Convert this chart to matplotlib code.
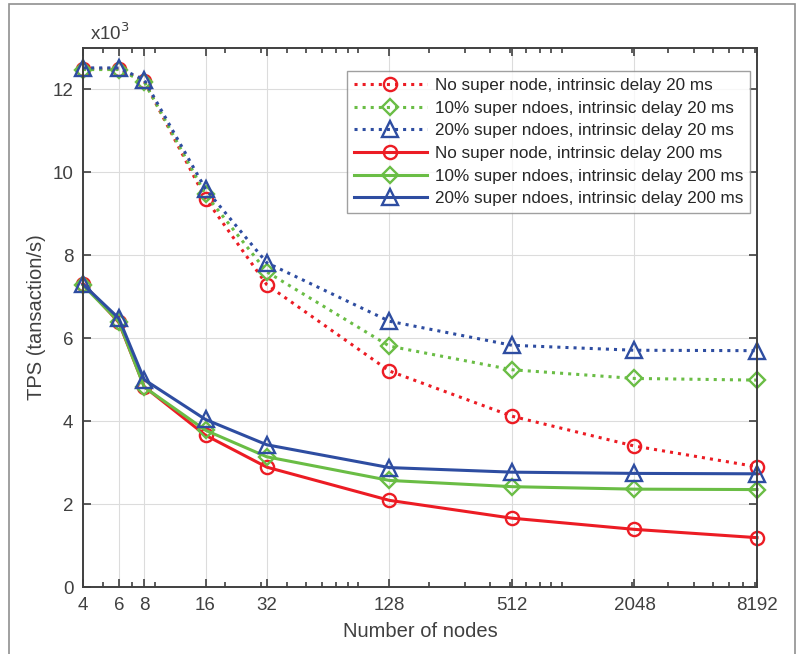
import matplotlib
matplotlib.use("Agg")
import matplotlib.pyplot as plt
from matplotlib.ticker import FixedLocator, NullFormatter, LogLocator
from matplotlib.patches import Rectangle

plt.rcParams['font.family'] = ['Liberation Sans', 'DejaVu Sans']

nodes = [4, 6, 8, 16, 32, 128, 512, 2048, 8192]
tick_labels = ['4', '6', '8', '16', '32', '128', '512', '2048', '8192']

no_super_20 = [12.50, 12.50, 12.20, 9.37, 7.29, 5.21, 4.12, 3.40, 2.90]
s10_20 = [12.48, 12.48, 12.18, 9.47, 7.60, 5.81, 5.24, 5.03, 4.99]
s20_20 = [12.52, 12.52, 12.23, 9.60, 7.82, 6.41, 5.83, 5.71, 5.70]
no_super_200 = [7.32, 6.38, 4.83, 3.66, 2.89, 2.09, 1.66, 1.39, 1.19]
s10_200 = [7.28, 6.40, 4.82, 3.78, 3.14, 2.57, 2.42, 2.36, 2.35]
s20_200 = [7.30, 6.48, 5.00, 4.04, 3.43, 2.88, 2.77, 2.74, 2.73]

labels = [
    'No super node, intrinsic delay 20 ms',
    '10% super ndoes, intrinsic delay 20 ms',
    '20% super ndoes, intrinsic delay 20 ms',
    'No super node, intrinsic delay 200 ms',
    '10% super ndoes, intrinsic delay 200 ms',
    '20% super ndoes, intrinsic delay 200 ms',
]

red = '#EC1C24'
green = '#6ABD45'
blue = '#2E4DA1'
txt = '#404040'

fig = plt.figure(figsize=(8.04, 6.54), dpi=100)
ax = fig.add_axes([83/804, 67/654, (757-83)/804, (587-48)/654])

series = [
    (no_super_20, red, 'o', ':'),
    (s10_20, green, 'D', ':'),
    (s20_20, blue, '^', ':'),
    (no_super_200, red, 'o', '-'),
    (s10_200, green, 'D', '-'),
    (s20_200, blue, '^', '-'),
]
msize = {'o': 9.5, 'D': 8.5, '^': 11.5}
for (vals, c, m, ls), lab in zip(series, labels):
    ax.plot(nodes, vals, color=c, linestyle=ls, linewidth=2.2,
            marker=m, markersize=msize[m], markerfacecolor='none', markeredgecolor=c,
            markeredgewidth=1.7, label=lab, clip_on=False)

ax.set_xscale('log', base=2)
ax.set_xlim(4, 8192)
ax.set_ylim(0, 13)
ax.xaxis.set_major_locator(FixedLocator(nodes))
ax.set_xticklabels(tick_labels)
ax.xaxis.set_minor_locator(LogLocator(base=10, subs=[2, 3, 4, 5, 6, 7, 8, 9]))
ax.xaxis.set_minor_formatter(NullFormatter())
ax.set_yticks([0, 2, 4, 6, 8, 10, 12])
ax.set_yticklabels(['0', '2', '4', '6', '8', '10', '12'])

ax.grid(True, which='major', color='#DCDCDC', linewidth=0.8)
ax.set_axisbelow(True)
ax.tick_params(which='both', direction='in', top=True, right=True, colors='#404040',
               labelcolor=txt, labelsize=13.5, width=1.2)
ax.tick_params(which='major', length=6, pad=7)
ax.tick_params(which='minor', length=3.5)
for s in ax.spines.values():
    s.set_color('#404040')
    s.set_linewidth(1.4)

ax.set_xlabel('Number of nodes', fontsize=14.5, color=txt, labelpad=6)
ax.set_ylabel('TPS (tansaction/s)', fontsize=14.5, color=txt)
ax.yaxis.set_label_coords(-(83-46)/674, 0.5)
fig.text(90/804, 1 - 40/654, 'x10$^3$', fontsize=13.5, color=txt, ha='left', va='baseline')

leg = ax.legend(loc='upper right', bbox_to_anchor=(750/804, 1 - 71/654), bbox_transform=fig.transFigure,
                fontsize=12.3, frameon=True, fancybox=False, edgecolor='#888888',
                handlelength=4.3, handletextpad=0.45, borderpad=0.4, labelspacing=0.45,
                borderaxespad=0)
leg.get_frame().set_linewidth(1.0)
for t in leg.get_texts():
    t.set_color('#262626')

fig.patches.append(Rectangle((9/804, -0.05), (795-9)/804, 1.05 - 4/654, transform=fig.transFigure,
                             fill=False, edgecolor='#909090', linewidth=1.2))

fig.savefig('out.png', dpi=100)
